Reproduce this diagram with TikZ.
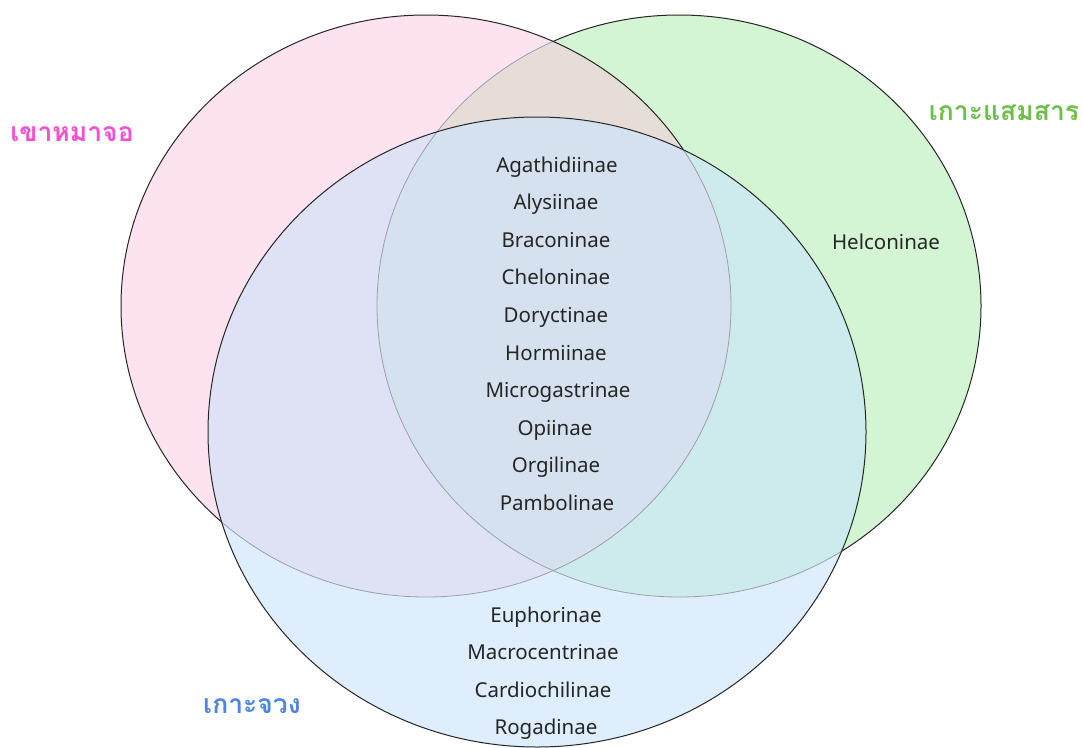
\documentclass[tikz,border=0pt]{standalone}
\usepackage{fontspec}
\newfontfamily\thaifont[Script=Thai]{Loma}
\newfontfamily\latinfont{Noto Sans}
\definecolor{cP}{HTML}{FDE3F0}
\definecolor{cG}{HTML}{D4F5D4}
\definecolor{cB}{HTML}{DEEEFC}
\definecolor{cPG}{HTML}{E6DDD9}
\definecolor{cBP}{HTML}{DFE2F5}
\definecolor{cBG}{HTML}{CDEBEC}
\definecolor{cBPG}{HTML}{D5E1EE}
\definecolor{lblP}{HTML}{F64FD2}
\definecolor{lblG}{HTML}{6CC04A}
\definecolor{lblB}{HTML}{4D85E0}
\definecolor{inner}{HTML}{9AA0AA}
\tikzset{
  outline/.style={draw=black!85, line width=1pt},
  dimline/.style={draw=inner, line width=0.8pt},
  item/.style={font=\latinfont\fontsize{20.5}{23}\selectfont, text=black!85, inner sep=0pt, text height=15pt, text depth=5pt},
  setlabel/.style={font=\thaifont\fontsize{26.5}{30}\selectfont\bfseries, inner sep=0pt},
}
\def\pinkpath{(426,306) ellipse [x radius=305, y radius=291]}
\def\greenpath{(679,306) ellipse [x radius=302, y radius=291]}
\def\bluepath{(537,432) ellipse [x radius=329, y radius=315]}
\begin{document}
\begin{tikzpicture}[x=1pt,y=-1pt]
\useasboundingbox (0,0) rectangle (1083,747);
\fill[white] (0,0) rectangle (1083,747);
% green
\fill[cG] \greenpath;
\path[outline] \greenpath;
% pink
\fill[cP] \pinkpath;
\begin{scope}
  \clip \greenpath;
  \fill[cPG] \pinkpath;
\end{scope}
\begin{scope}
  \clip \pinkpath;
  \path[dimline] \greenpath;
\end{scope}
\path[outline] \pinkpath;
% blue
\fill[cB] \bluepath;
\begin{scope}
  \clip \bluepath;
  \fill[cBP] \pinkpath;
  \fill[cBG] \greenpath;
  \begin{scope}
    \clip \pinkpath;
    \fill[cBPG] \greenpath;
  \end{scope}
  \path[dimline] \pinkpath;
  \path[dimline] \greenpath;
\end{scope}
\path[outline] \bluepath;
% labels
\node[setlabel, text=lblP] (lp) at (72,134) {เขาหมาจอ};
\node[setlabel, text=lblG] (lg) at (1004,113) {เกาะแสมสาร};
\node[setlabel, text=lblB] (lb) at (252,706) {เกาะจวง};
% items
\node[item] (i1) at (557,167) {Agathidiinae};
\node[item] (i2) at (556,204) {Alysiinae};
\node[item] (i3) at (556,242) {Braconinae};
\node[item] (i4) at (556,279) {Cheloninae};
\node[item] (i5) at (556,317) {Doryctinae};
\node[item] (i6) at (556,355) {Hormiinae};
\node[item] (i7) at (558,392) {Microgastrinae};
\node[item] (i8) at (555,430) {Opiinae};
\node[item] (i9) at (556,467) {Orgilinae};
\node[item] (i10) at (557,505) {Pambolinae};
\node[item] (h) at (886,244) {Helconinae};
\node[item] (e1) at (546,617) {Euphorinae};
\node[item] (e2) at (543,654) {Macrocentrinae};
\node[item] (e3) at (543,692) {Cardiochilinae};
\node[item] (e4) at (546,729) {Rogadinae};
\end{tikzpicture}
\end{document}
